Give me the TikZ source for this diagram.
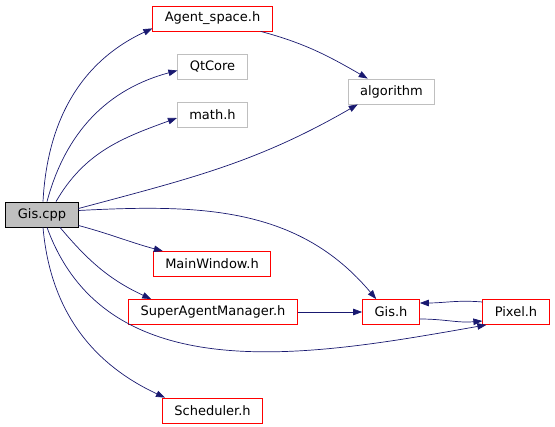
\documentclass[tikz,border=0pt]{standalone}
\usepackage{fontspec}
\setmainfont{DejaVu Sans}
\usetikzlibrary{arrows.meta}
\definecolor{edgeblue}{HTML}{191970}
\definecolor{extgray}{HTML}{BFBFBF}
\tikzset{
  file/.style={draw, line width=0.8pt, minimum height=25pt, inner xsep=12pt, inner ysep=0pt,
    font=\fontsize{13}{15}\selectfont},
  docfile/.style={file, draw=red},
  extfile/.style={file, draw=extgray},
  dep/.style={draw=edgeblue, line width=0.7pt, -{Triangle[length=9pt,width=6.5pt]}}
}
\begin{document}
\begin{tikzpicture}[x=1pt,y=-1pt]
      \useasboundingbox (0,0) rectangle (555,427);
      \node[file, draw=black, fill=extgray, minimum width=72pt] (gcpp) at (42,214.5) {Gis.cpp};
      \node[docfile] (agent) at (212.5,18.5) {Agent\_space.h};
      \node[extfile, minimum width=69pt] (qtcore) at (212.5,66.5) {QtCore};
      \node[extfile, minimum width=69pt] (math) at (212.5,115) {math.h};
      \node[extfile] (algo) at (391.5,91.5) {algorithm};
      \node[docfile] (mainwin) at (212,264) {MainWindow.h};
      \node[docfile] (sam) at (213,312) {SuperAgentManager.h};
      \node[docfile, minimum width=56pt] (gish) at (391,312) {Gis.h};
      \node[docfile] (pixel) at (516,312) {Pixel.h};
      \node[docfile] (sched) at (212.5,410.5) {Scheduler.h};
      \draw[dep] ([xshift=1pt]gcpp.north) to[out=87,in=205] ([yshift=3pt]agent.south west);
      \draw[dep] ([xshift=5pt]gcpp.north) to[out=75,in=195] ([yshift=-4pt]qtcore.west);
      \draw[dep] ([xshift=14pt]gcpp.north) to[out=60,in=200] ([yshift=-3pt]math.west);
      \draw[dep] ([yshift=6pt]gcpp.east) to[out=15,in=210] ([xshift=10pt]algo.south west);
      \draw[dep] ([yshift=4pt]gcpp.east) to[out=3,in=130] ([xshift=14pt]gish.north west);
      \draw[dep] ([yshift=-11pt]gcpp.east) to[out=-15,in=165] ([xshift=10pt]mainwin.north west);
      \draw[dep] ([xshift=18pt]gcpp.south) to[out=-50,in=155] ([xshift=23pt]sam.north west);
      \draw[dep] ([xshift=5pt]gcpp.south) to[out=-70,in=190] ([xshift=4pt]pixel.south west);
      \draw[dep] ([xshift=1pt]gcpp.south) to[out=-85,in=155] ([xshift=3pt]sched.north west);
      \draw[dep] ([xshift=-12pt]agent.south east) to[out=-15,in=150] ([xshift=20pt]algo.north west);
      \draw[dep] (sam) -- (gish);
      \draw[dep] ([yshift=-7pt]gish.east) to[out=0,in=185] ([yshift=-9pt]pixel.west);
      \draw[dep] ([yshift=10pt]pixel.west) to[out=175,in=0] ([yshift=9pt]gish.east);
\end{tikzpicture}
\end{document}
